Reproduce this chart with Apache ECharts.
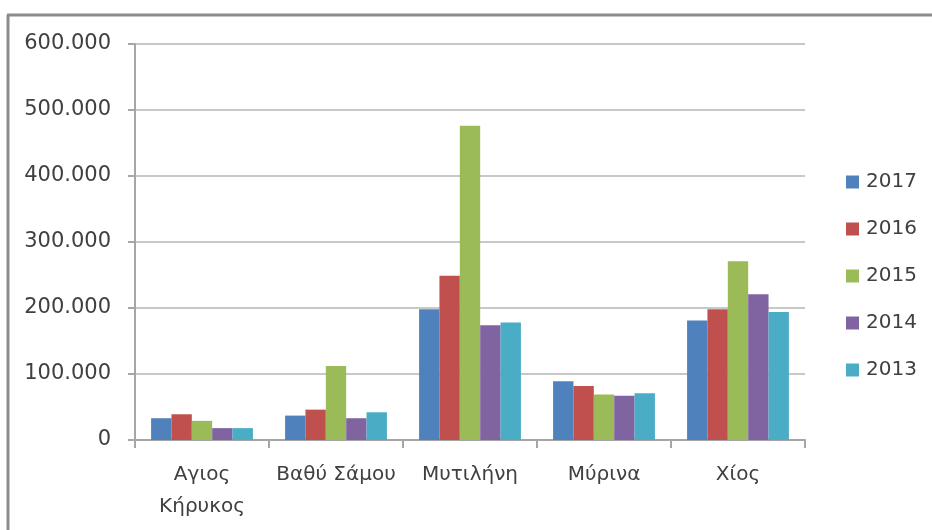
<!DOCTYPE html>
<html>
<head>
<meta charset="utf-8">
<script src="https://cdn.jsdelivr.net/npm/echarts@6/dist/echarts.min.js"></script>
<style>
  html, body { margin: 0; padding: 0; background: #ffffff; }
  #chart { width: 932px; height: 530px; }
</style>
</head>
<body>
<div id="chart"></div>
<script>
// Ports of the North Aegean: yearly passenger counts
const categories = ['Αγιος\nΚήρυκος', 'Βαθύ Σάμου', 'Μυτιλήνη', 'Μύρινα', 'Χίος'];
const years = ['2017', '2016', '2015', '2014', '2013'];

const values2017 = [33000, 37000, 198000, 89000, 181000];
const values2016 = [39000, 46000, 249000, 82000, 198000];
const values2015 = [29000, 112000, 476000, 69000, 271000];
const values2014 = [18000, 33000, 174000, 67000, 221000];
const values2013 = [18000, 42000, 178000, 71000, 194000];

const yTicks = [0, 100000, 200000, 300000, 400000, 500000, 600000];

const seriesValues = [values2017, values2016, values2015, values2014, values2013];
const palette = ['#4F81BD', '#C0504D', '#9BBB59', '#8064A2', '#4BACC6'];

const FONT = 'DejaVu Sans';
const TEXT_COLOR = '#404040';

function formatThousands(v) {
  return String(v).replace(/\B(?=(\d{3})+(?!\d))/g, '.');
}

const chart = echarts.init(document.getElementById('chart'), null, { renderer: 'canvas' });

chart.setOption({
  animation: false,
  backgroundColor: '#ffffff',
  color: palette,
  textStyle: { fontFamily: FONT },
  grid: { left: 135, right: 127, top: 44, bottom: 90, containLabel: false },
  legend: {
    orient: 'vertical',
    left: 846,
    top: 171,
    padding: 0,
    icon: 'rect',
    itemWidth: 13,
    itemHeight: 13,
    itemGap: 25,
    itemStyle: { borderWidth: 0 },
    textStyle: { fontFamily: FONT, fontSize: 20, color: TEXT_COLOR, lineHeight: 22, padding: [0, 0, 0, 2] },
    data: years
  },
  xAxis: {
    type: 'category',
    data: categories,
    axisLine: { lineStyle: { color: '#a6a6a6', width: 2 } },
    axisTick: { show: true, length: 8, lineStyle: { color: '#a6a6a6', width: 2 } },
    axisLabel: { fontFamily: FONT, fontSize: 20, color: TEXT_COLOR, lineHeight: 32, margin: 19, interval: 0 }
  },
  yAxis: {
    type: 'value',
    min: yTicks[0],
    max: yTicks[yTicks.length - 1],
    interval: yTicks[1] - yTicks[0],
    axisLine: { show: true, lineStyle: { color: '#a6a6a6', width: 2 } },
    axisTick: { show: true, length: 7, lineStyle: { color: '#a6a6a6', width: 2 } },
    splitLine: { lineStyle: { color: '#c8c8c8', width: 2 } },
    axisLabel: { fontFamily: FONT, fontSize: 21, color: TEXT_COLOR, margin: 24, formatter: formatThousands }
  },
  series: years.map((y, i) => ({
    name: y,
    type: 'bar',
    data: seriesValues[i],
    barGap: '0%',
    barCategoryGap: '24%'
  })),
  graphic: [
    // chart-area frame: top and left edges
    { type: 'line', shape: { x1: 7, y1: 15, x2: 932, y2: 15 }, style: { stroke: '#8c8c8c', lineWidth: 3 }, silent: true },
    { type: 'line', shape: { x1: 8, y1: 15, x2: 8, y2: 530 }, style: { stroke: '#8c8c8c', lineWidth: 3 }, silent: true }
  ]
});
</script>
</body>
</html>
